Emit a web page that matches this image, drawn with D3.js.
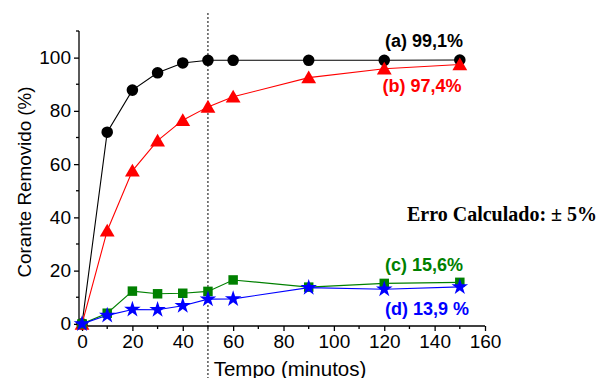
<!DOCTYPE html>
<html>
<head>
<meta charset="utf-8">
<script src="https://cdn.jsdelivr.net/npm/d3@7"></script>
<style>
  body { margin: 0; background: #fff; }
  svg { display: block; }
  .axis text { font-family: "Liberation Sans", Arial, sans-serif; font-size: 19px; fill: #000; }
  .axis path, .axis line { stroke: #000; stroke-width: 1.3; }
</style>
</head>
<body>
<svg width="598" height="378"></svg>
<script>
'use strict'

var times = [0, 10, 20, 30, 40, 50, 60, 90, 120, 150];
var serieA = [0, 72, 87.8, 94.3, 98, 99, 99, 99, 99, 99.1];
var serieB = [0, 35, 57.5, 68.8, 76.5, 81.5, 85.3, 92.5, 95.8, 97.4];
var serieC = [0, 4, 12.3, 11.3, 11.5, 12.2, 16.5, 13.8, 15.2, 15.6];
var serieD = [0, 3.2, 5.4, 5.3, 6.8, 9.3, 9.4, 13.6, 13, 13.9];
var xTicks = [0, 20, 40, 60, 80, 100, 120, 140, 160];
var yTicks = [0, 20, 40, 60, 80, 100];
var labels = ["(a) 99,1%", "(b) 97,4%", "(c) 15,6%", "(d) 13,9 %"];

var svg = d3.select("svg");

var x = d3.scaleLinear().domain([-1.2, 160]).range([79, 485]);
var y = d3.scaleLinear().domain([-0.8, 110]).range([326, 31]);

var series = [
  { vals: serieA, color: "#000000", sym: d3.symbolCircle, size: 105, label: labels[0], lx: 424, ly: 47 },
  { vals: serieB, color: "#ff0000", sym: d3.symbolTriangle, size: 95, label: labels[1], lx: 422, ly: 92 },
  { vals: serieC, color: "#008000", sym: d3.symbolSquare, size: 90, label: labels[2], lx: 424, ly: 271 },
  { vals: serieD, color: "#0000ff", sym: d3.symbolStar, size: 85, label: labels[3], lx: 427, ly: 315 }
];

// axes
var xAxis = d3.axisBottom(x).tickValues(xTicks).tickSize(5).tickPadding(4).tickSizeOuter(0);
var yAxis = d3.axisLeft(y).tickValues(yTicks).tickSize(5).tickPadding(3).tickSizeOuter(0);

var gx = svg.append("g").attr("class", "axis")
  .attr("transform", "translate(0," + y.range()[0] + ")")
  .call(xAxis);
gx.select(".domain").attr("d", "M" + x.range()[0] + ",0H" + x.range()[1]);

var gy = svg.append("g").attr("class", "axis")
  .attr("transform", "translate(" + x.range()[0] + ",0)")
  .call(yAxis);
gy.select(".domain").attr("d", "M0," + y.range()[0] + "V" + y.range()[1]);

// minor ticks
gx.selectAll(".minor").data(d3.range(10, 160, 20)).enter()
  .append("line").attr("class", "minor")
  .attr("x1", function(d) { return x(d); }).attr("x2", function(d) { return x(d); })
  .attr("y1", 0).attr("y2", 3);
gy.selectAll(".minor").data(d3.range(10, 111, 20)).enter()
  .append("line").attr("class", "minor")
  .attr("y1", function(d) { return y(d); }).attr("y2", function(d) { return y(d); })
  .attr("x1", 0).attr("x2", -3);

// axis titles
svg.append("text")
  .attr("x", 290).attr("y", 376)
  .attr("text-anchor", "middle")
  .style("font-family", "Liberation Sans, Arial, sans-serif")
  .style("font-size", "20.5px")
  .text("Tempo (minutos)");

svg.append("text")
  .attr("transform", "translate(31,182) rotate(-90)")
  .attr("text-anchor", "middle")
  .style("font-family", "Liberation Sans, Arial, sans-serif")
  .style("font-size", "18.8px")
  .text("Corante Removido (%)");

// dotted line at 50 min
svg.append("line")
  .attr("x1", x(50)).attr("x2", x(50))
  .attr("y1", 13).attr("y2", 378)
  .attr("stroke", "#000").attr("stroke-width", 1)
  .attr("stroke-dasharray", "2,2");

var line = d3.line()
  .x(function(d, i) { return x(times[i]); })
  .y(function(d) { return y(d); });

series.forEach(function(s) {
  var g = svg.append("g");
  g.append("path")
    .attr("d", line(s.vals))
    .attr("fill", "none")
    .attr("stroke", s.color)
    .attr("stroke-width", 1.1);
  g.selectAll(".pt").data(s.vals).enter()
    .append("path")
    .attr("class", "pt")
    .attr("transform", function(d, i) {
      var dy = s.sym === d3.symbolTriangle ? 1.5 : 0;
      return "translate(" + x(times[i]) + "," + (y(d) + dy) + ")";
    })
    .attr("d", d3.symbol().type(s.sym).size(s.size))
    .attr("fill", s.color);
  svg.append("text")
    .attr("x", s.lx).attr("y", s.ly)
    .attr("text-anchor", "middle")
    .attr("fill", s.color)
    .style("font-family", "Liberation Sans, Arial, sans-serif")
    .style("font-size", "18px")
    .style("font-weight", "bold")
    .text(s.label);
});

svg.append("text")
  .attr("x", 502).attr("y", 221)
  .attr("text-anchor", "middle")
  .style("font-family", "Liberation Serif, Times New Roman, serif")
  .style("font-size", "20px")
  .style("font-weight", "bold")
  .text("Erro Calculado: \u00b1 5%");
</script>
</body>
</html>
